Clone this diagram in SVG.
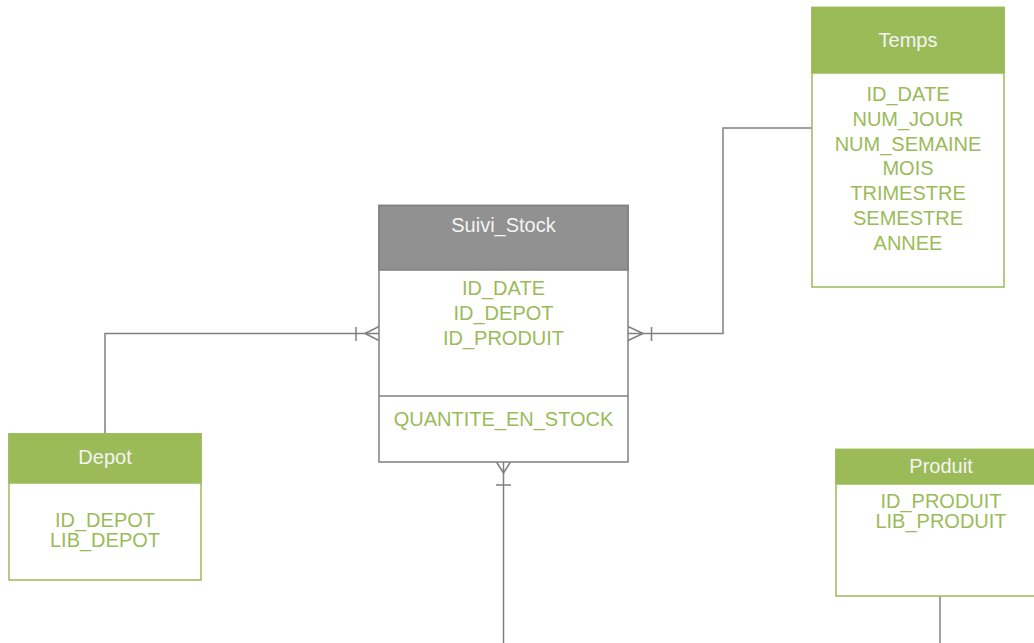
<svg xmlns="http://www.w3.org/2000/svg" width="1034" height="643" viewBox="0 0 1034 643">
<style>
.box{fill:#ffffff;stroke:#9bbb59;stroke-width:1.5}
.gbox{fill:#ffffff;stroke:#808080;stroke-width:1.5}
.hdr{fill:#9bbb59;stroke:#9bbb59;stroke-width:1.5}
.ghdr{fill:#919191;stroke:#808080;stroke-width:1.5}
.title{font-family:"Liberation Sans",Arial,sans-serif;font-size:20px;fill:#f4f4f4;text-anchor:middle}
.fld{font-family:"Liberation Sans",Arial,sans-serif;font-size:20px;fill:#9bbb59;text-anchor:middle}
.ln{fill:none;stroke:#808080;stroke-width:1.5}
</style>
<rect width="1034" height="643" fill="#ffffff"/>
<g id="connectors">
<path class="ln" d="M105,434 V333.5 H379"/>
<path class="ln" d="M356,327 V341 M365,333.5 L379,326.5 M365,333.5 L379,340.5"/>
<path class="ln" d="M812,128 H723 V333.5 H628"/>
<path class="ln" d="M651.5,327 V341 M643,333.5 L628,326.5 M643,333.5 L628,340.5"/>
<path class="ln" d="M503.5,462 V643"/>
<path class="ln" d="M496,485 H511 M503.5,473 L496.5,462 M503.5,473 L510.5,462"/>
<path class="ln" d="M940,596 V643"/>
</g>
<g id="suivi_stock">
<rect class="gbox" x="379" y="205.5" width="249" height="256.5"/>
<rect class="ghdr" x="379" y="205.5" width="249" height="64.5"/>
<line class="ln" x1="379" y1="396" x2="628" y2="396"/>
<text class="title" x="503.5" y="232">Suivi_Stock</text>
<text class="fld" x="503.5" y="295">ID_DATE</text>
<text class="fld" x="503.5" y="320">ID_DEPOT</text>
<text class="fld" x="503.5" y="344.5">ID_PRODUIT</text>
<text class="fld" x="503.5" y="426">QUANTITE_EN_STOCK</text>
</g>
<g id="temps">
<rect class="box" x="812" y="7.5" width="192" height="279.5"/>
<rect class="hdr" x="812" y="7.5" width="192" height="65.5"/>
<text class="title" x="908" y="47">Temps</text>
<text class="fld" x="908" y="101">ID_DATE</text>
<text class="fld" x="908" y="125.5">NUM_JOUR</text>
<text class="fld" x="908" y="150.5">NUM_SEMAINE</text>
<text class="fld" x="908" y="175">MOIS</text>
<text class="fld" x="908" y="199.5">TRIMESTRE</text>
<text class="fld" x="908" y="224.5">SEMESTRE</text>
<text class="fld" x="908" y="249.5">ANNEE</text>
</g>
<g id="depot">
<rect class="box" x="9" y="434" width="192" height="146"/>
<rect class="hdr" x="9" y="434" width="192" height="49"/>
<text class="title" x="105" y="464">Depot</text>
<text class="fld" x="105" y="527">ID_DEPOT</text>
<text class="fld" x="105" y="547">LIB_DEPOT</text>
</g>
<g id="produit">
<rect class="box" x="836" y="449.5" width="210" height="146.5"/>
<rect class="hdr" x="836" y="449.5" width="210" height="34.5"/>
<text class="title" x="941" y="473">Produit</text>
<text class="fld" x="941" y="508">ID_PRODUIT</text>
<text class="fld" x="941" y="528">LIB_PRODUIT</text>
</g>
</svg>
